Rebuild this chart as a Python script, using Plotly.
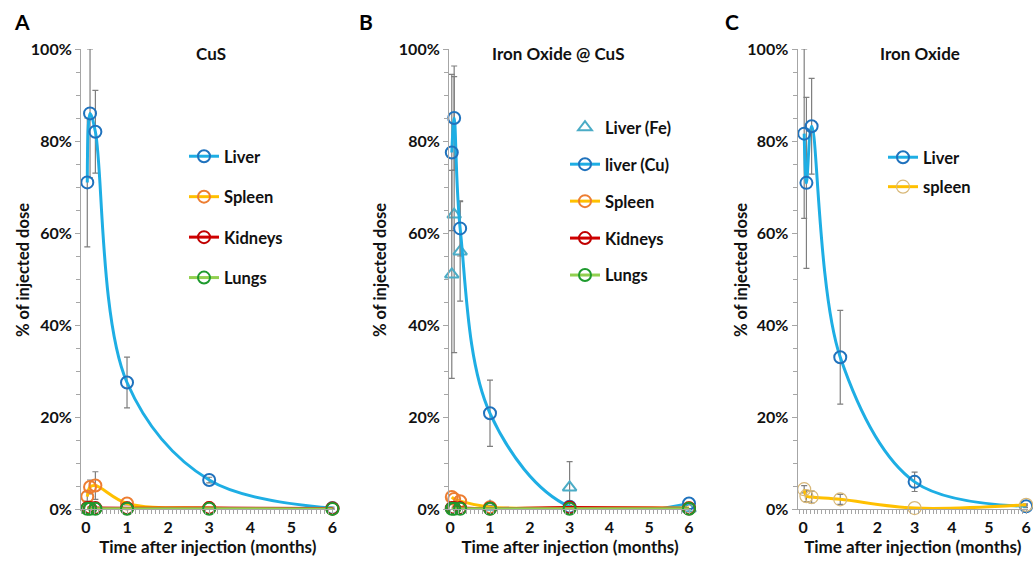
import plotly.graph_objects as go

# ---------------- data ----------------
A_x = [0.033, 0.1, 0.23, 1, 3, 6]
A_liver = [71, 86, 82, 27.5, 6.3, 0.2]
A_liver_err = [14, 14, 9, 5.5, 0.6, 0.2]
A_spleen = [2.7, 4.8, 5.1, 1.2, 0.2, 0.1]
A_spleen_err = [1.0, 1.5, 3.0, 0.3, 0.1, 0.05]
A_kidneys = [0.2, 0.2, 0.2, 0.15, 0.2, 0.1]
A_lungs = [0.05, 0.05, 0.05, 0.05, 0.05, 0.02]

B_x = [0.04, 0.1, 0.25, 1, 3, 6]
B_liver_fe = [51, 64, 56, 0.5, 4.7, 0.1]
B_liver_fe_err = [22.6, 30, 10.8, 0.3, 5.6, 0]
B_liver_cu = [77.5, 85, 61, 20.8, 0.5, 1.2]
B_liver_cu_err = [17, 11.3, 6, 7.2, 0.3, 0.3]
B_spleen = [2.6, 2.2, 1.7, 0.4, 0.2, 0.2]
B_kidneys = [0.2, 0.2, 0.2, 0.1, 0.3, 0.1]
B_lungs = [0.05, 0.05, 0.05, 0.05, 0.05, 0.05]

C_x = [0.03, 0.09, 0.23, 1, 3, 6]
C_liver = [81.6, 70.9, 83.2, 33, 5.9, 0.6]
C_liver_err = [18.4, 18.6, 10.4, 10.2, 2.1, 0.3]
C_spleen = [4.3, 2.8, 2.6, 2.1, 0.2, 0.9]
C_spleen_err = [0.8, 1.2, 1.3, 1.1, 0.1, 0.2]

panel_titles = ["CuS", "Iron Oxide @ CuS", "Iron Oxide"]
panel_letters = ["A", "B", "C"]
x_ticks = [0, 1, 2, 3, 4, 5, 6]
y_ticks = [0, 20, 40, 60, 80, 100]
x_title = "Time after injection (months)"
y_title = "% of injected dose"

# ---------------- style ----------------
FONT = "Lato"
W, H = 1033, 565
LIVER_LINE = "#1EAEE4"
LIVER_MK = "#1F72BD"
SPLEEN_LINE = "#FFC000"
SPLEEN_MK = "#ED7D31"
KID_LINE = "#D00000"
KID_MK = "#C00000"
LUNG_LINE = "#92D050"
LUNG_MK = "#1E9A2E"
FE_MK = "#4BACC6"
ERR = "#7F7F7F"
TXT = "#111111"

def px_x(p):
    return p / W

def px_y(p):
    return 1 - p / H

y_dom = [px_y(509), px_y(49)]
x_doms = [
    [px_x(81), px_x(334.5)],
    [px_x(449), px_x(691)],
    [px_x(797.5), px_x(1028)],
]
x_ranges = [[-0.12, 6.05], [-0.03, 6.05], [-0.15, 6.05]]

fig = go.Figure()


def add(i, x, y, name, line_c, mk_c, err=None, legend="legend", mode="lines+markers",
        symbol="circle-open", mk_size=12, mk_w=2, lw=3):
    ax = "" if i == 0 else str(i + 1)
    tr = dict(
        x=x, y=y, name=name, mode=mode,
        xaxis="x" + ax, yaxis="y" + ax,
        line=dict(color=line_c, width=lw, shape="spline", smoothing=1),
        marker=dict(symbol=symbol, size=mk_size, color=mk_c, line=dict(color=mk_c, width=mk_w)),
        legend=legend, legendgroup=legend + name, cliponaxis=False,
    )
    if err is not None:
        tr["error_y"] = dict(type="data", array=err, visible=True, color=ERR,
                             thickness=1.2, width=3)
    fig.add_trace(go.Scatter(**tr))


# Panel A
add(0, A_x, A_liver, "Liver", LIVER_LINE, LIVER_MK, A_liver_err, "legend")
add(0, A_x, A_spleen, "Spleen", SPLEEN_LINE, SPLEEN_MK, A_spleen_err, "legend")
add(0, A_x, A_kidneys, "Kidneys", KID_LINE, KID_MK, None, "legend")
add(0, A_x, A_lungs, "Lungs", LUNG_LINE, LUNG_MK, None, "legend")

# Panel B
add(1, B_x, B_liver_fe, "Liver (Fe)", FE_MK, FE_MK, B_liver_fe_err, "legend2",
    mode="markers", symbol="triangle-up-open", mk_size=12, mk_w=2)
add(1, B_x, B_liver_cu, "liver (Cu)", LIVER_LINE, LIVER_MK, B_liver_cu_err, "legend2")
add(1, B_x, B_spleen, "Spleen", SPLEEN_LINE, SPLEEN_MK, None, "legend2")
add(1, B_x, B_kidneys, "Kidneys", KID_LINE, KID_MK, None, "legend2")
add(1, B_x, B_lungs, "Lungs", LUNG_LINE, LUNG_MK, None, "legend2")

# Panel C
add(2, C_x, C_liver, "Liver", LIVER_LINE, LIVER_MK, C_liver_err, "legend3")
add(2, C_x, C_spleen, "spleen", SPLEEN_LINE, "#D8B878", C_spleen_err, "legend3",
    mk_size=13, mk_w=1.2)

tick_font = dict(family=FONT, size=16, color=TXT, weight="bold")
title_font = dict(family=FONT, size=17, color=TXT, weight="bold")

layout = dict(
    width=W, height=H,
    margin=dict(l=0, r=0, t=0, b=0, autoexpand=False),
    paper_bgcolor="white", plot_bgcolor="white",
    showlegend=True,
    font=dict(family=FONT, color=TXT),
)

for i in range(3):
    ax = "" if i == 0 else str(i + 1)
    layout["xaxis" + ax] = dict(
        domain=x_doms[i], range=x_ranges[i], anchor="y" + ax, automargin=False,
        tickmode="array", tickvals=x_ticks, ticktext=[str(t) for t in x_ticks],
        showgrid=False, zeroline=False, showline=True, linecolor="#A6A6A6", linewidth=1,
        ticks="outside", ticklen=4, tickcolor="#A6A6A6", tickfont=tick_font,
        minor=dict(dtick=0.1, tick0=0, ticks="outside", ticklen=4, tickcolor="#A6A6A6"),
        title=dict(text=x_title, font=title_font, standoff=2),
        fixedrange=True,
    )
    layout["yaxis" + ax] = dict(
        domain=y_dom, range=[0, 100], anchor="x" + ax, automargin=False,
        tickmode="array", tickvals=y_ticks, ticktext=[f"{t}%" for t in y_ticks],
        showgrid=False, zeroline=False, showline=True, linecolor="#A6A6A6", linewidth=1,
        ticks="outside", ticklen=5, tickcolor="#A6A6A6", tickfont=tick_font,
        minor=dict(dtick=5, tick0=0, ticks="outside", ticklen=4, tickcolor="#A6A6A6"),
        fixedrange=True,
    )

leg_common = dict(
    font=dict(family=FONT, size=16.5, color=TXT, weight="bold"),
    bgcolor="rgba(0,0,0,0)", xanchor="left", yanchor="top",
    itemwidth=30, traceorder="grouped",
)
layout["legend"] = dict(leg_common, x=px_x(184), y=px_y(139), tracegroupgap=16)
layout["legend2"] = dict(leg_common, x=px_x(565), y=px_y(110), tracegroupgap=12.5)
layout["legend3"] = dict(leg_common, x=px_x(883), y=px_y(140), tracegroupgap=5)

annotations = []
title_x = [211, 558, 920]
letter_x = [22, 366, 732]
ytitle_x = [23, 380, 741]
for i in range(3):
    annotations.append(dict(text=panel_titles[i], x=px_x(title_x[i]), y=px_y(53),
                            xref="paper", yref="paper", showarrow=False,
                            xanchor="center", yanchor="middle",
                            font=dict(family=FONT, size=17, color=TXT, weight="bold")))
    annotations.append(dict(text=panel_letters[i], x=px_x(letter_x[i]), y=px_y(22),
                            xref="paper", yref="paper", showarrow=False,
                            xanchor="center", yanchor="middle",
                            font=dict(family=FONT, size=21, color="#000000", weight="bold")))
    annotations.append(dict(text=y_title, x=px_x(ytitle_x[i]), y=px_y(270),
                            xref="paper", yref="paper", showarrow=False, textangle=-90,
                            xanchor="center", yanchor="middle",
                            font=dict(family=FONT, size=16.5, color=TXT, weight="bold")))
layout["annotations"] = annotations

fig.update_layout(**layout)
fig.write_html("out.html")
